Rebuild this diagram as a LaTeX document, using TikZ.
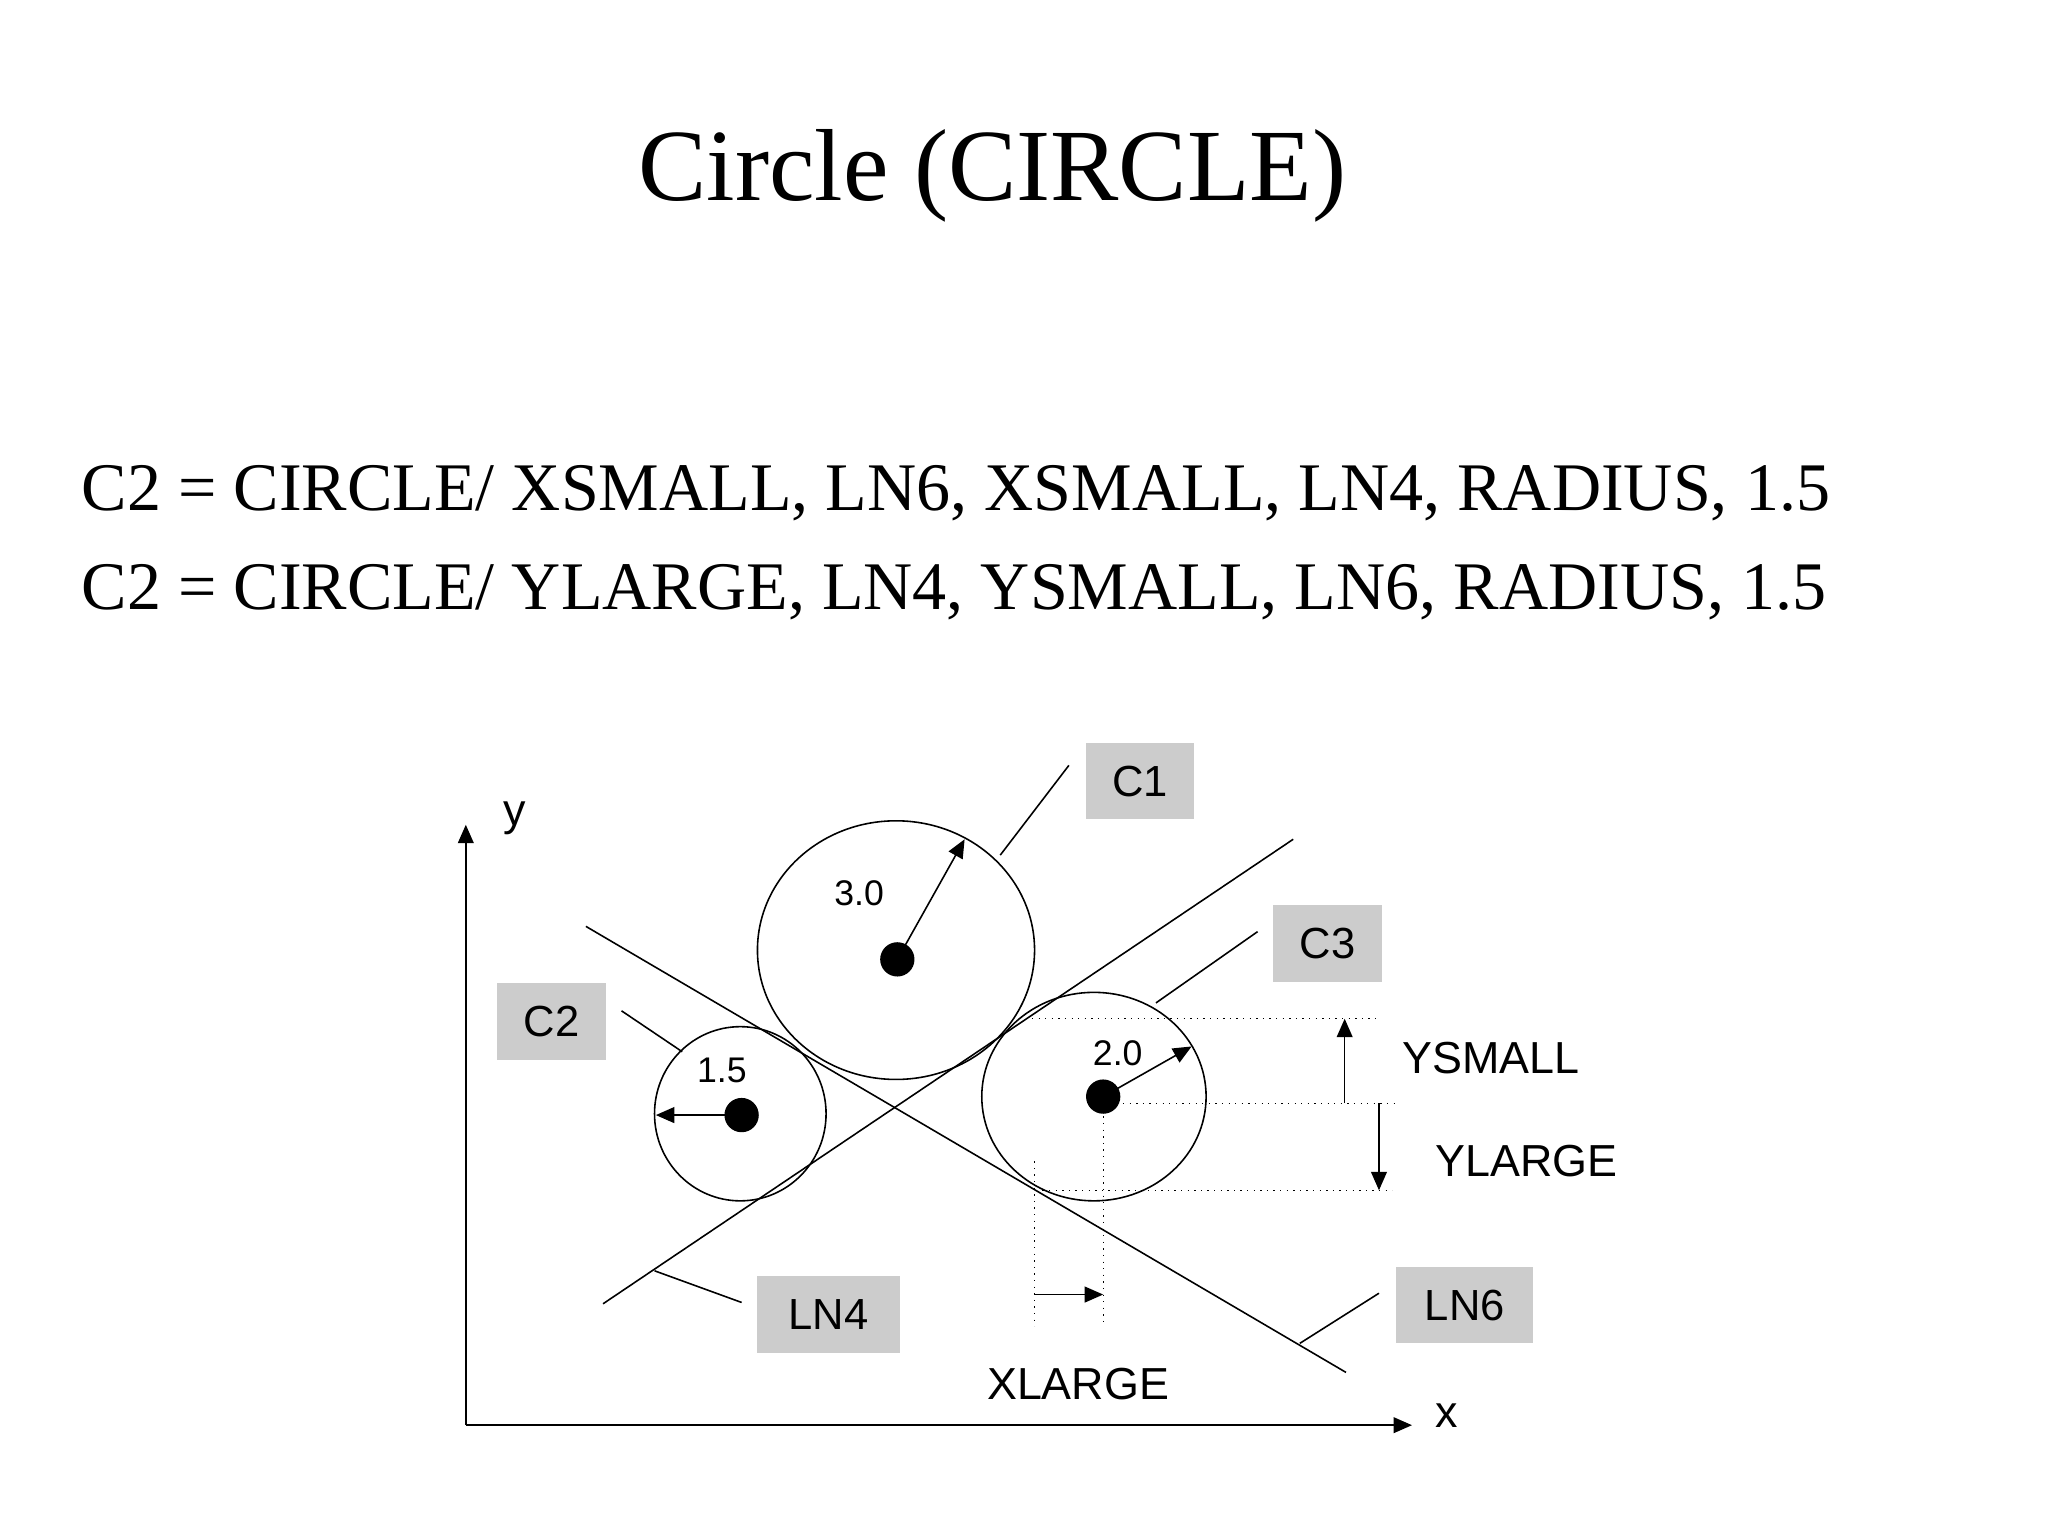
\documentclass[tikz,border=0pt]{standalone}
\usepackage{fontspec}
\setmainfont{Liberation Serif}
\setsansfont{Liberation Sans}
\usetikzlibrary{arrows.meta}
\begin{document}
\begin{tikzpicture}[x=0.5pt,y=-0.5pt,
  lbl/.style={font=\sffamily\fontsize{17}{20}\selectfont},
  num/.style={font=\sffamily\fontsize{13.5}{16}\selectfont},
  gbox/.style={fill=black!20,minimum width=41pt,minimum height=29pt,font=\sffamily\fontsize{16.5}{20}\selectfont},
  ln/.style={line width=0.6pt},
  dot/.style={circle,fill=black,inner sep=0pt,minimum size=13pt},
  arr/.style={ln,-{Triangle[length=7pt,width=6pt]}},
  dots/.style={line width=0.5pt,dotted}]
\useasboundingbox (0,0) rectangle (1552,1164);
\node (title) at (752,133) {\fontsize{38.8}{44}\selectfont Circle (CIRCLE)};
\node[anchor=base west] (l1) at (55,387) {\fontsize{25.8}{30}\selectfont C2 = CIRCLE/ XSMALL, LN6, XSMALL, LN4, RADIUS, 1.5};
\node[anchor=base west] (l2) at (55,462) {\fontsize{25.8}{30}\selectfont C2 = CIRCLE/ YLARGE, LN4, YSMALL, LN6, RADIUS, 1.5};
% axes
\coordinate (o) at (353,1080);
\coordinate (yt) at (353,625);
\coordinate (xt) at (1070,1080);
\draw[arr] (o) -- (yt);
\draw[arr] (o) -- (xt);
\node[lbl] (ylab) at (390,620) {y};
\node[lbl] (xlab) at (1096,1073) {x};
% circles
\draw[ln] (679,720) ellipse [x radius=105, y radius=98];
\draw[ln] (561,844) ellipse [x radius=65, y radius=66];
\draw[ln] (829,831) ellipse [x radius=85, y radius=79];
\node[dot] (d1) at (680,727) {};
\node[dot] (d2) at (562,845) {};
\node[dot] (d3) at (836,831) {};
\coordinate (r1) at (731,636);
\coordinate (r2) at (497,845);
\coordinate (r3) at (903,793);
\draw[arr] (d1.center) -- (r1);
\draw[arr] (d2.center) -- (r2);
\draw[arr] (d3.center) -- (r3);
\node[num] (n1) at (651,677) {3.0};
\node[num] (n2) at (547,811) {1.5};
\node[num] (n3) at (847,798) {2.0};
% lines
\coordinate (a6) at (444,702); \coordinate (b6) at (1020,1040);
\coordinate (a4) at (457,988); \coordinate (b4) at (980,636);
\draw[ln] (a6) -- (b6);
\draw[ln] (a4) -- (b4);
% labels
\node[gbox] (C1) at (864,592) {C1};
\node[gbox] (C3) at (1006,715) {C3};
\node[gbox] (C2) at (418,774) {C2};
\node[gbox,minimum width=54pt] (LN4) at (628,996) {LN4};
\node[gbox,minimum width=52pt] (LN6) at (1110,989) {LN6};
\draw[ln] (758,648) -- (810,580);
\draw[ln] (876,760) -- (953,706);
\draw[ln] (471,766) -- (517,797);
\draw[ln] (496,963) -- (562,987);
\draw[ln] (985,1018) -- (1045,980);
% dimension lines
\draw[dots] (782,772) -- (1043,772);
\draw[dots] (836,836) -- (1058,836);
\draw[dots] (790,902) -- (1055,902);
\draw[dots] (784,880) -- (784,1005);
\draw[dots] (836,836) -- (836,1005);
\coordinate (ys0) at (1019,836); \coordinate (ys1) at (1019,772);
\coordinate (yl0) at (1045,836); \coordinate (yl1) at (1045,902);
\coordinate (xl0) at (784,981); \coordinate (xl1) at (836,981);
\draw[arr] (ys0) -- (ys1);
\draw[arr] (yl0) -- (yl1);
\draw[arr] (xl0) -- (xl1);
\node[lbl] (ysm) at (1130,802) {YSMALL};
\node[lbl] (ylg) at (1157,880) {YLARGE};
\node[lbl] (xlg) at (817,1049) {XLARGE};
\end{tikzpicture}
\end{document}
